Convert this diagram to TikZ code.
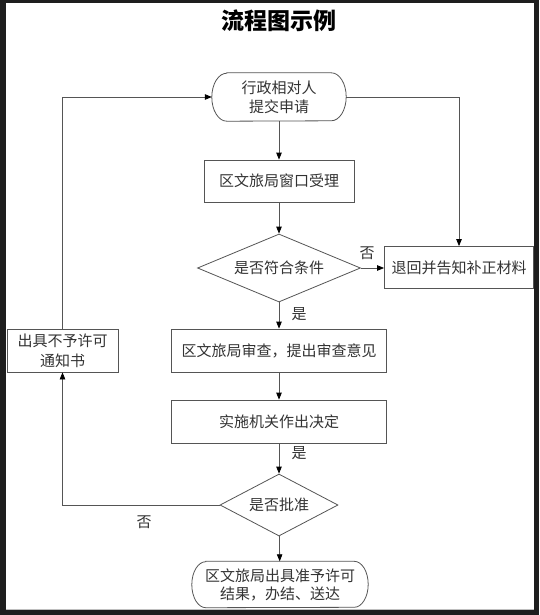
\documentclass[tikz,border=0pt]{standalone}
\usepackage{fontspec}
\setmainfont{Noto Sans CJK SC}
\usetikzlibrary{arrows.meta,shapes.geometric}
\definecolor{linec}{HTML}{555555}
\definecolor{txtc}{HTML}{333333}
\definecolor{bgdark}{HTML}{1E1E1E}
\begin{document}
\begin{tikzpicture}[x=1pt,y=-1pt,
  font=\fontsize{15}{19}\selectfont,
  line/.style={draw=linec, line width=0.8pt},
  arr/.style={line, -{Triangle[length=7pt,width=5.5pt,color=black]}},
  box/.style={draw=linec, line width=0.8pt, text=txtc, inner sep=0pt, align=center},
  term/.style={inner sep=0pt, text=txtc, align=center},
  dia/.style={diamond, draw=linec, line width=0.8pt, text=txtc, inner sep=0pt},
  lab/.style={text=txtc, inner sep=0pt}]
\useasboundingbox (0,0) rectangle (539,615);
\fill[bgdark] (0,0) rectangle (539,615);
\fill[white] (6,3) rectangle (534,609);
\draw[gray!50, line width=0.8pt] (6,609) -- (534,609);

\node[font=\fontsize{23}{27}\selectfont\bfseries, text=black] (title) at (279,21) {流程图示例};

\node[term, minimum width=134pt, minimum height=48pt] (s) at (279,97) {行政相对人\\提交申请};
\draw[line] ([xshift=15pt]s.north west) -- ([xshift=-15pt]s.north east)
  arc[start angle=90, end angle=-90, x radius=15pt, y radius=24pt]
  -- ([xshift=15pt]s.south west)
  arc[start angle=270, end angle=90, x radius=15pt, y radius=24pt] -- cycle;

\node[box, minimum width=150pt, minimum height=42pt] (b1) at (279,181) {区文旅局窗口受理};
\node[dia, aspect=2.4, minimum width=163pt, minimum height=68pt] (d1) at (279,268) {是否符合条件};
\node[box, minimum width=149pt, minimum height=42pt] (rej) at (459,267.5) {退回并告知补正材料};
\node[box, minimum width=215pt, minimum height=43pt] (rev) at (279,350.5) {区文旅局审查，提出审查意见};
\node[box, minimum width=111pt, minimum height=43pt, font=\fontsize{15}{20}\selectfont] (no) at (62.5,350.5) {出具不予许可\\通知书};
\node[box, minimum width=215pt, minimum height=43pt] (dec) at (279,421.5) {实施机关作出决定};
\node[dia, aspect=1.9, minimum width=118pt, minimum height=62pt] (d2) at (279,505) {是否批准};

\node[term, minimum width=176pt, minimum height=46pt, font=\fontsize{15}{18}\selectfont] (e) at (280,584.5) {区文旅局出具准予许可\\结果，办结、送达};
\draw[line] ([xshift=14pt]e.north west) -- ([xshift=-14pt]e.north east)
  arc[start angle=90, end angle=-90, x radius=14pt, y radius=23pt]
  -- ([xshift=14pt]e.south west)
  arc[start angle=270, end angle=90, x radius=14pt, y radius=23pt] -- cycle;

\draw[arr] (s) -- (b1);
\draw[arr] (s.east) -| (rej.north);
\draw[arr] (b1) -- (d1);
\draw[arr] (d1.east) -- (d1.east -| rej.west);
\draw[arr] (d1) -- (rev);
\draw[arr] (rev) -- (dec);
\draw[arr] (dec) -- (d2);
\draw[arr] (d2.west) -| (no.south);
\draw[arr] (no.north) |- (s.west);
\draw[arr] (d2) -- (e);

\node[lab] (l1) at (367,253) {否};
\node[lab] (l2) at (299,314) {是};
\node[lab] (l3) at (299,453) {是};
\node[lab] (l4) at (144,522) {否};
\end{tikzpicture}
\end{document}
